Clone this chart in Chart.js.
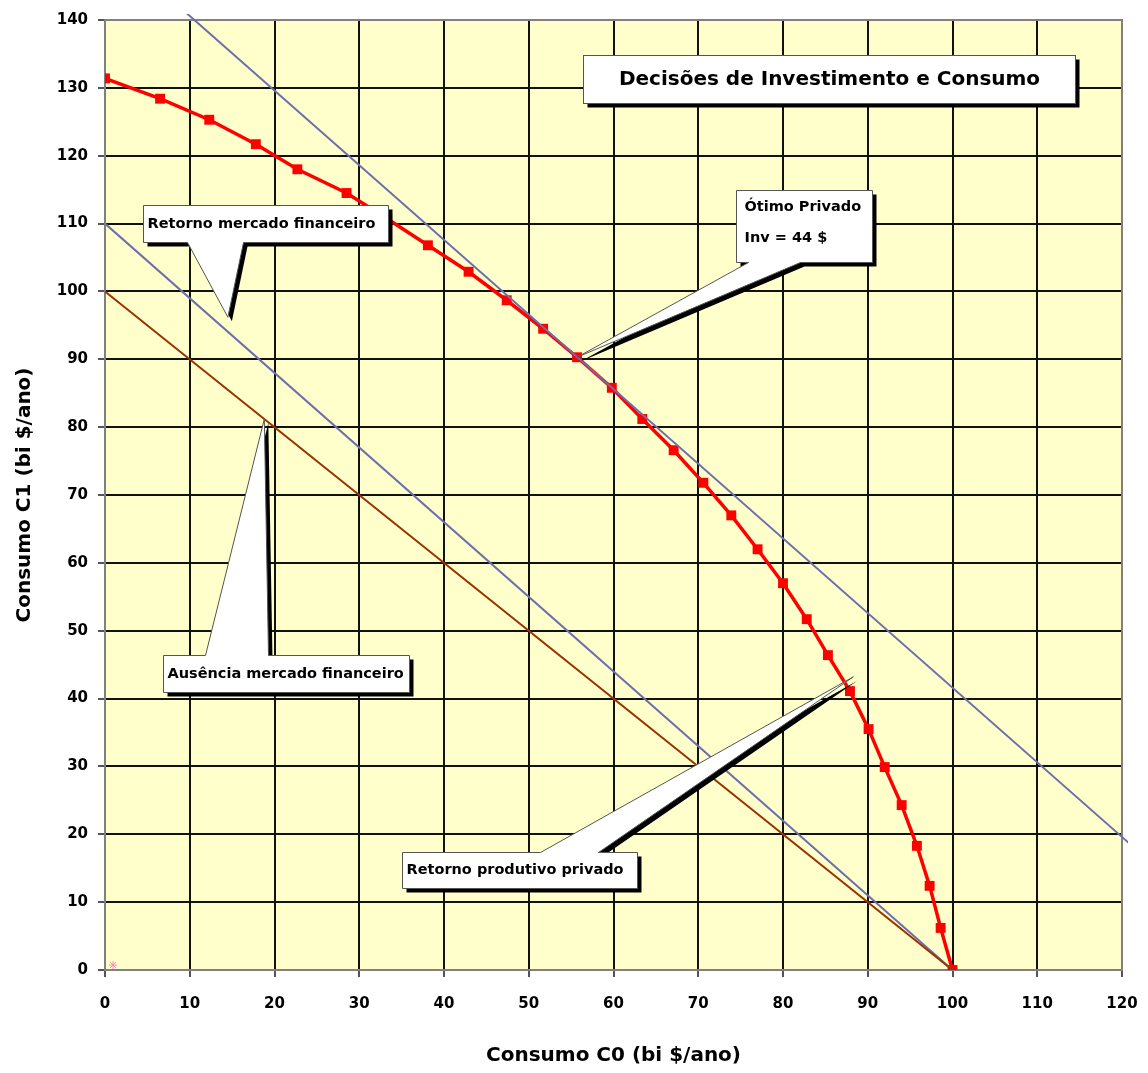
<!DOCTYPE html>
<html>
<head>
<meta charset="utf-8">
<script src="https://cdn.jsdelivr.net/npm/chart.js@4.4.1/dist/chart.umd.min.js"></script>
<style>
  html, body { margin: 0; padding: 0; background: #ffffff; }
  canvas { display: block; }
</style>
</head>
<body>
<canvas id="chart" width="1148" height="1073"></canvas>
<script>
// fronteira de produção (C0, C1)
const fronteiraC0 = [0, 6.5, 12.3, 17.8, 22.7, 28.5, 33.3, 38.1, 42.9, 47.4, 51.7, 55.7, 59.8, 63.4, 67.1,
                     70.6, 73.9, 77.0, 80.0, 82.8, 85.3, 87.9, 90.1, 92.0, 94.0, 95.8, 97.3, 98.6, 100];
const fronteiraC1 = [131.4, 128.4, 125.3, 121.7, 118.0, 114.5, 110.7, 106.8, 102.9, 98.7, 94.5, 90.3, 85.8, 81.2, 76.6,
                     71.8, 67.0, 62.0, 57.0, 51.7, 46.4, 41.1, 35.5, 29.9, 24.3, 18.3, 12.4, 6.2, 0];

// reta do mercado financeiro tangente ao ótimo privado
const mercadoOtimoC0 = [0, 121];
const mercadoOtimoC1 = [151.6, 18.5];

// reta do mercado financeiro sem investimento
const mercadoC0 = [0, 100];
const mercadoC1 = [110, 0];

// ausência de mercado financeiro
const semMercadoC0 = [0, 100];
const semMercadoC1 = [100, 0];

// marca solta perto da origem
const marcaC0 = [0.95];
const marcaC1 = [0.74];

const xMin = 0, xMax = 120, xStep = 10;
const yMin = 0, yMax = 140, yStep = 10;

const FONT = '"DejaVu Sans", sans-serif';

const toPoints = (xs, ys) => xs.map((x, i) => ({ x: x, y: ys[i] }));

// caixas de texto com seta (posição da caixa e ponta em unidades do gráfico)
const callouts = [
    { lines: ['Retorno mercado financeiro'], box: [4.5, 112.7], size: [245, 37], side: 'bottom', base: [44, 100], tip: [14.5, 96.2] },
    { lines: ['Ótimo Privado', 'Inv = 44 $'], box: [74.5, 114.9], size: [136, 72], side: 'bottom', base: [12, 64], tip: [55.7, 90.3] },
    { lines: ['Ausência mercado financeiro'], box: [6.85, 46.4], size: [246, 37], side: 'top', base: [42, 105], tip: [18.8, 81.2] },
    { lines: ['Retorno produtivo privado'], box: [35.0, 17.4], size: [235, 36], side: 'top', base: [138, 196], tip: [88.3, 43.2] }
];
const titleBox = { text: 'Decisões de Investimento e Consumo', box: [56.4, 134.8], size: [492, 48] };

function calloutPath(ctx, bx, by, w, h, c, tx, ty) {
    ctx.beginPath();
    if (c.side === 'bottom') {
        ctx.moveTo(bx, by);
        ctx.lineTo(bx + w, by);
        ctx.lineTo(bx + w, by + h);
        ctx.lineTo(bx + c.base[1], by + h);
        ctx.lineTo(tx, ty);
        ctx.lineTo(bx + c.base[0], by + h);
        ctx.lineTo(bx, by + h);
    } else {
        ctx.moveTo(bx, by);
        ctx.lineTo(bx + c.base[0], by);
        ctx.lineTo(tx, ty);
        ctx.lineTo(bx + c.base[1], by);
        ctx.lineTo(bx + w, by);
        ctx.lineTo(bx + w, by + h);
        ctx.lineTo(bx, by + h);
    }
    ctx.closePath();
}

const plotStyle = {
    id: 'plotStyle',
    beforeDraw(chart) {
        const { ctx, chartArea: a } = chart;
        ctx.save();
        ctx.fillStyle = '#FFFFCC';
        ctx.fillRect(a.left, a.top, a.right - a.left, a.bottom - a.top);
        ctx.restore();
    },
    beforeDatasetsDraw(chart) {
        const { ctx, chartArea: a } = chart;
        ctx.save();
        ctx.strokeStyle = '#808080';
        ctx.lineWidth = 2;
        ctx.strokeRect(a.left, a.top, a.right - a.left, a.bottom - a.top);
        ctx.restore();
    },
    afterDatasetsDraw(chart) {
        const ctx = chart.ctx;
        const xs = chart.scales.x, ys = chart.scales.y;

        // balões
        callouts.forEach(c => {
            const bx = Math.round(xs.getPixelForValue(c.box[0])) + 0.5;
            const by = Math.round(ys.getPixelForValue(c.box[1])) + 0.5;
            const w = c.size[0], h = c.size[1];
            const tx = xs.getPixelForValue(c.tip[0]);
            const ty = ys.getPixelForValue(c.tip[1]);

            ctx.save();
            ctx.translate(4, 4);
            calloutPath(ctx, bx, by, w, h, c, tx, ty);
            ctx.fillStyle = '#000';
            ctx.fill();
            ctx.restore();

            ctx.save();
            calloutPath(ctx, bx, by, w, h, c, tx, ty);
            ctx.fillStyle = '#fff';
            ctx.fill();
            ctx.strokeStyle = '#555';
            ctx.lineWidth = 1;
            ctx.stroke();

            ctx.fillStyle = '#000';
            ctx.font = 'bold 14.5px ' + FONT;
            ctx.textAlign = 'left';
            ctx.textBaseline = 'middle';
            if (c.lines.length === 1) {
                ctx.fillText(c.lines[0], bx + 4, by + h / 2);
            } else {
                ctx.fillText(c.lines[0], bx + 8, by + 17);
                ctx.fillText(c.lines[1], bx + 8, by + 48);
            }
            ctx.restore();
        });

        // título
        const bx = Math.round(xs.getPixelForValue(titleBox.box[0])) + 0.5;
        const by = Math.round(ys.getPixelForValue(titleBox.box[1])) + 0.5;
        const w = titleBox.size[0], h = titleBox.size[1];
        ctx.save();
        ctx.fillStyle = '#000';
        ctx.fillRect(bx + 4, by + 4, w, h);
        ctx.fillStyle = '#fff';
        ctx.fillRect(bx, by, w, h);
        ctx.strokeStyle = '#555';
        ctx.lineWidth = 1;
        ctx.strokeRect(bx, by, w, h);
        ctx.fillStyle = '#000';
        ctx.font = 'bold 20px ' + FONT;
        ctx.textAlign = 'center';
        ctx.textBaseline = 'middle';
        ctx.fillText(titleBox.text, bx + w / 2, by + h / 2);
        ctx.restore();
    }
};

const tickFont = { family: FONT, size: 15, weight: 'bold' };
const titleFont = { family: FONT, size: 20, weight: 'bold' };

new Chart(document.getElementById('chart').getContext('2d'), {
    type: 'scatter',
    data: {
        datasets: [
            {
                label: 'Ausência mercado financeiro',
                data: toPoints(semMercadoC0, semMercadoC1),
                showLine: true,
                borderColor: '#993300',
                borderWidth: 2,
                pointRadius: 0
            },
            {
                label: 'Retorno mercado financeiro',
                data: toPoints(mercadoC0, mercadoC1),
                showLine: true,
                borderColor: '#6E6EAC',
                borderWidth: 2,
                pointRadius: 0
            },
            {
                label: 'Mercado no ótimo',
                data: toPoints(mercadoOtimoC0, mercadoOtimoC1),
                showLine: true,
                borderColor: '#6E6EAC',
                borderWidth: 2,
                pointRadius: 0,
                clip: 6
            },
            {
                label: 'Retorno produtivo privado',
                data: toPoints(fronteiraC0, fronteiraC1),
                showLine: true,
                borderColor: '#FF0000',
                backgroundColor: '#FF0000',
                borderWidth: 3.5,
                pointStyle: 'rect',
                pointRadius: 7,
                pointBorderWidth: 0
            },
            {
                label: 'marca',
                data: toPoints(marcaC0, marcaC1),
                showLine: false,
                borderColor: '#FF88C8',
                pointStyle: 'star',
                pointRadius: 4,
                pointBorderWidth: 1
            }
        ]
    },
    options: {
        responsive: false,
        animation: false,
        layout: { padding: { top: 20, right: 26, left: 0, bottom: 0 } },
        plugins: {
            legend: { display: false },
            tooltip: { enabled: false }
        },
        scales: {
            x: {
                type: 'linear',
                min: xMin,
                max: xMax,
                ticks: { stepSize: xStep, color: '#000', font: tickFont, padding: 18, maxRotation: 0 },
                grid: { color: '#111', lineWidth: 2, tickLength: 7, tickColor: '#555' },
                border: { display: true, color: '#555', width: 2 },
                title: { display: true, text: 'Consumo C0 (bi $/ano)', color: '#000', font: titleFont, padding: { top: 0, bottom: 5 } },
                afterFit(scale) {
                    scale.height = 103;
                    scale.paddingLeft = 0;
                    scale.paddingRight = 0;
                }
            },
            y: {
                type: 'linear',
                min: yMin,
                max: yMax,
                ticks: { stepSize: yStep, color: '#000', font: tickFont, padding: 10 },
                grid: { color: '#111', lineWidth: 2, tickLength: 7, tickColor: '#555' },
                border: { display: true, color: '#555', width: 2 },
                title: { display: true, text: 'Consumo C1 (bi $/ano)', color: '#000', font: titleFont, padding: { top: 13, bottom: 0 } },
                afterFit(scale) {
                    scale.width = 105;
                    scale.paddingTop = 0;
                    scale.paddingBottom = 0;
                }
            }
        }
    },
    plugins: [plotStyle]
});
</script>
</body>
</html>
